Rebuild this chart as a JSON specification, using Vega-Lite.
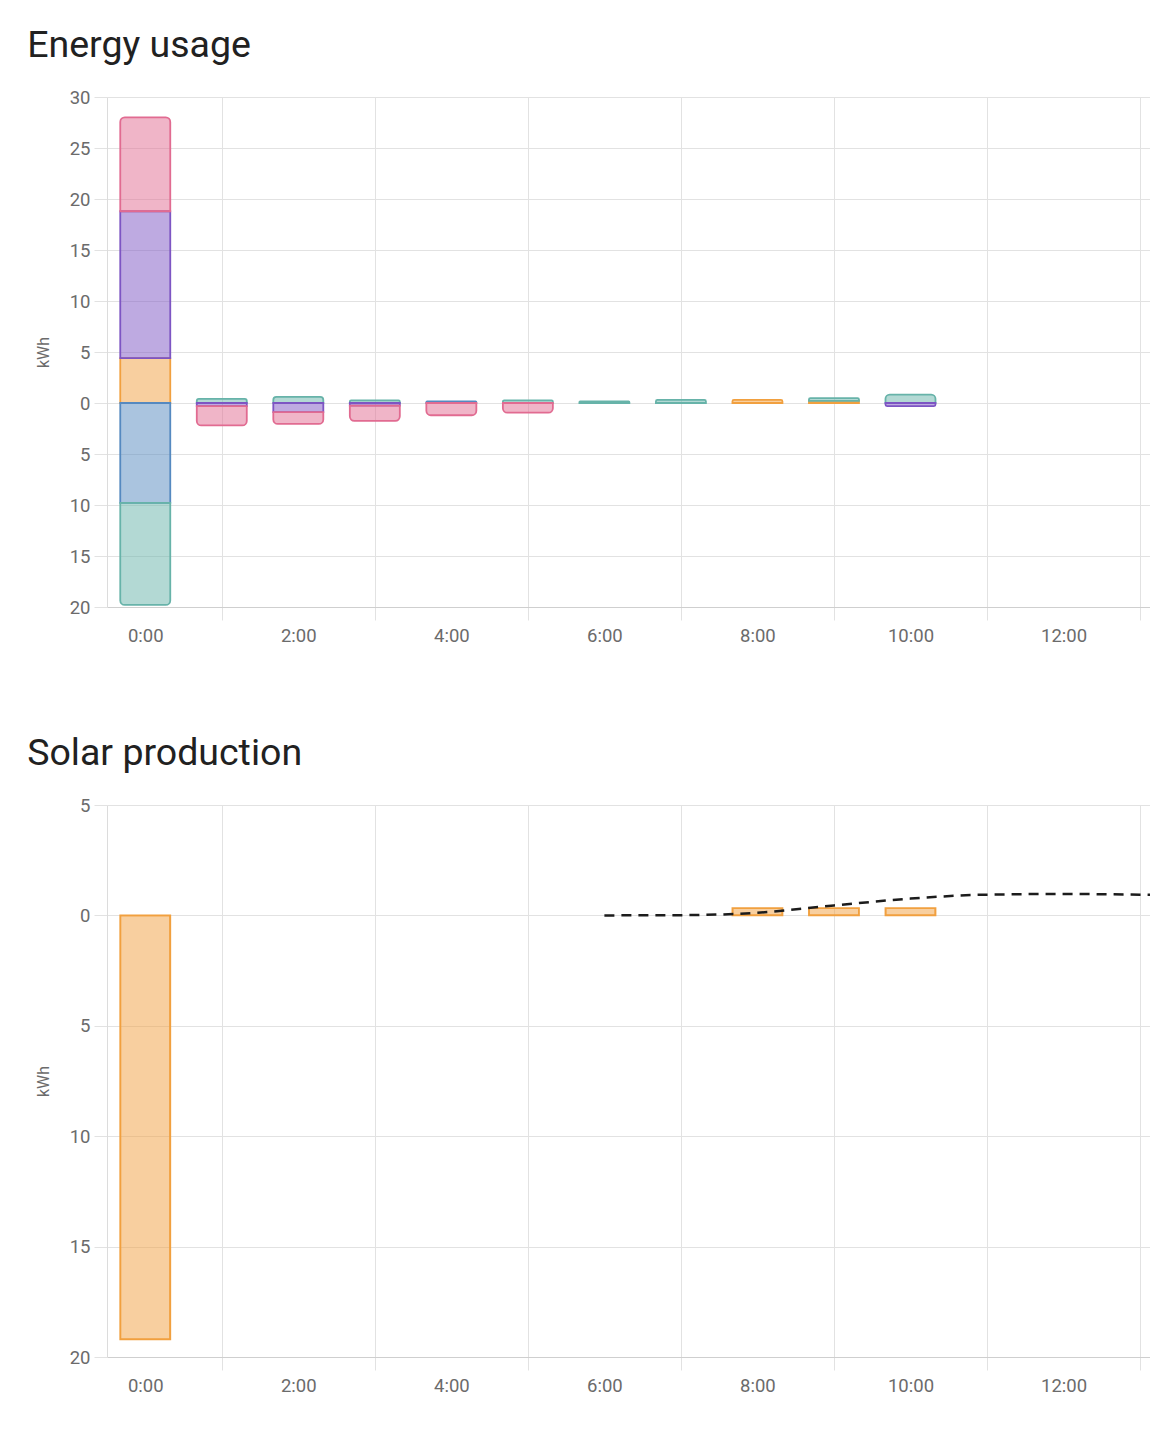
{
  "$schema": "https://vega.github.io/schema/vega-lite/v6.json",
  "background": "white",
  "padding": {"left": 27, "top": 26, "right": 0, "bottom": 0},
  "spacing": 89,
  "config": {
    "font": "Roboto",
    "view": {"stroke": null},
    "axis": {
      "gridColor": "#e2e2e2",
      "domainColor": "#dcdcdc",
      "tickColor": "#e2e2e2",
      "labelColor": "#6b6b6b",
      "labelFontSize": 18.5,
      "labelFont": "Roboto",
      "titleColor": "#6b6b6b",
      "titleFont": "Roboto",
      "titleFontSize": 16,
      "titleFontWeight": "normal"
    },
    "title": {"font": "Roboto", "fontSize": 37.5, "fontWeight": "normal", "color": "#212121", "anchor": "start", "frame": "bounds"}
  },
  "datasets": {
    "sources": [
      {"source": "Solar", "rank": 1},
      {"source": "Grid consumption", "rank": 2},
      {"source": "Battery out", "rank": 3},
      {"source": "Return to grid", "rank": 4},
      {"source": "Battery in", "rank": 5}
    ],
    "usage": [
      {"hour": 0, "source": "Solar", "kwh": 4.4},
      {"hour": 0, "source": "Return to grid", "kwh": 14.4},
      {"hour": 0, "source": "Battery in", "kwh": 9.2},
      {"hour": 0, "source": "Grid consumption", "kwh": -9.8},
      {"hour": 0, "source": "Battery out", "kwh": -10.0},
      {"hour": 1, "source": "Battery out", "kwh": 0.4},
      {"hour": 1, "source": "Return to grid", "kwh": -0.3},
      {"hour": 1, "source": "Battery in", "kwh": -1.9},
      {"hour": 2, "source": "Battery out", "kwh": 0.6},
      {"hour": 2, "source": "Return to grid", "kwh": -0.9},
      {"hour": 2, "source": "Battery in", "kwh": -1.15},
      {"hour": 3, "source": "Battery out", "kwh": 0.25},
      {"hour": 3, "source": "Return to grid", "kwh": -0.25},
      {"hour": 3, "source": "Battery in", "kwh": -1.5},
      {"hour": 4, "source": "Grid consumption", "kwh": 0.15},
      {"hour": 4, "source": "Battery in", "kwh": -1.2},
      {"hour": 5, "source": "Battery out", "kwh": 0.25},
      {"hour": 5, "source": "Battery in", "kwh": -0.95},
      {"hour": 6, "source": "Battery out", "kwh": 0.15},
      {"hour": 7, "source": "Battery out", "kwh": 0.3},
      {"hour": 8, "source": "Solar", "kwh": 0.3},
      {"hour": 9, "source": "Solar", "kwh": 0.2},
      {"hour": 9, "source": "Battery out", "kwh": 0.27},
      {"hour": 10, "source": "Battery out", "kwh": 0.83},
      {"hour": 10, "source": "Return to grid", "kwh": -0.3}
    ],
    "solar": [
      {"hour": 0, "source": "Solar", "kwh": -19.2},
      {"hour": 8, "source": "Solar", "kwh": 0.33},
      {"hour": 9, "source": "Solar", "kwh": 0.33},
      {"hour": 10, "source": "Solar", "kwh": 0.33}
    ],
    "forecast": [
      {"hour": 6, "kwh": 0},
      {"hour": 7, "kwh": 0.01},
      {"hour": 8, "kwh": 0.12},
      {"hour": 9, "kwh": 0.45},
      {"hour": 10, "kwh": 0.76},
      {"hour": 11, "kwh": 0.94},
      {"hour": 12, "kwh": 0.97},
      {"hour": 13, "kwh": 0.94},
      {"hour": 14, "kwh": 0.87}
    ]
  },
  "vconcat": [
    {
      "title": {"text": "Energy usage", "offset": 24, "dx": -8},
      "width": 1043,
      "height": 510,
      "data": {"name": "usage"},
      "transform": [
        {"lookup": "source", "from": {"data": {"name": "sources"}, "key": "source", "fields": ["rank"]}},
        {"stack": "kwh", "groupby": ["hour"], "sort": [{"field": "rank", "order": "ascending"}], "as": ["lo", "hi"]},
        {"joinaggregate": [{"op": "max", "field": "hi", "as": "top"}, {"op": "min", "field": "hi", "as": "bot"}], "groupby": ["hour"]}
      ],
      "mark": {
        "type": "bar",
        "width": 50,
        "fillOpacity": 0.5,
        "strokeWidth": 1.8,
        "cornerRadiusTopLeft": {"expr": "datum.hi > 0 && datum.hi == datum.top ? 4.5 : 0"},
        "cornerRadiusTopRight": {"expr": "datum.hi > 0 && datum.hi == datum.top ? 4.5 : 0"},
        "cornerRadiusBottomLeft": {"expr": "datum.hi < 0 && datum.hi == datum.bot ? 4.5 : 0"},
        "cornerRadiusBottomRight": {"expr": "datum.hi < 0 && datum.hi == datum.bot ? 4.5 : 0"}
      },
      "encoding": {
        "x": {
          "field": "hour", "type": "quantitative",
          "scale": {"domain": [-0.5, 13.13], "nice": false, "zero": false, "padding": 0},
          "axis": {
            "title": null,
            "values": [0, 1, 2, 3, 4, 5, 6, 7, 8, 9, 10, 11, 12, 13],
            "labelExpr": "datum.value % 2 == 0 ? datum.value + ':00' : ''",
            "gridColor": {"condition": {"test": "datum.value % 2 == 1", "value": "#e2e2e2"}, "value": "transparent"},
            "tickColor": {"condition": {"test": "datum.value % 2 == 1", "value": "#e2e2e2"}, "value": "transparent"},
            "tickSize": 13,
            "labelPadding": 6,
            "domainColor": "#cfcfcf",
            "labelFlush": false
          }
        },
        "y": {
          "field": "hi", "type": "quantitative",
          "scale": {"domain": [-20, 30], "nice": false},
          "axis": {
            "title": "kWh",
            "values": [-20, -15, -10, -5, 0, 5, 10, 15, 20, 25, 30],
            "labelExpr": "'' + abs(datum.value)",
            "tickSize": 13,
            "labelPadding": 4,
            "titlePadding": 18
          }
        },
        "y2": {"field": "lo"},
        "fill": {
          "field": "source", "type": "nominal", "legend": null,
          "scale": {"domain": ["Solar", "Grid consumption", "Battery out", "Return to grid", "Battery in"], "range": ["#f1a03f", "#5589c0", "#67b3a9", "#7d55c3", "#e16b91"]}
        },
        "stroke": {
          "field": "source", "type": "nominal", "legend": null,
          "scale": {"domain": ["Solar", "Grid consumption", "Battery out", "Return to grid", "Battery in"], "range": ["#f1a03f", "#5589c0", "#67b3a9", "#7d55c3", "#e16b91"]}
        }
      }
    },
    {
      "title": {"text": "Solar production", "offset": 24, "dx": -8},
      "width": 1043,
      "height": 552,
      "layer": [
        {
          "data": {"name": "solar"},
          "mark": {
            "type": "bar",
            "width": 50,
            "fillOpacity": 0.5,
            "strokeWidth": 1.8,
            "cornerRadiusTopLeft": {"expr": "datum.kwh > 0 ? 4.5 : 0"},
            "cornerRadiusTopRight": {"expr": "datum.kwh > 0 ? 4.5 : 0"},
            "cornerRadiusBottomLeft": {"expr": "datum.kwh < 0 ? 4.5 : 0"},
            "cornerRadiusBottomRight": {"expr": "datum.kwh < 0 ? 4.5 : 0"}
          },
          "encoding": {
            "x": {
              "field": "hour", "type": "quantitative",
              "scale": {"domain": [-0.5, 13.13], "nice": false, "zero": false, "padding": 0},
              "axis": {
                "title": null,
                "values": [0, 1, 2, 3, 4, 5, 6, 7, 8, 9, 10, 11, 12, 13],
                "labelExpr": "datum.value % 2 == 0 ? datum.value + ':00' : ''",
                "gridColor": {"condition": {"test": "datum.value % 2 == 1", "value": "#e2e2e2"}, "value": "transparent"},
                "tickColor": {"condition": {"test": "datum.value % 2 == 1", "value": "#e2e2e2"}, "value": "transparent"},
                "tickSize": 13,
                "labelPadding": 6,
                "domainColor": "#cfcfcf",
                "labelFlush": false
              }
            },
            "y": {
              "field": "kwh", "type": "quantitative",
              "scale": {"domain": [-20, 5], "nice": false},
              "axis": {
                "title": "kWh",
                "values": [-20, -15, -10, -5, 0, 5],
                "labelExpr": "'' + abs(datum.value)",
                "tickSize": 13,
                "labelPadding": 4,
                "titlePadding": 18
              }
            },
            "fill": {"value": "#f1a03f"},
            "stroke": {"value": "#f1a03f"}
          }
        },
        {
          "data": {"name": "forecast"},
          "mark": {"type": "line", "color": "#1c1c1c", "strokeWidth": 2.5, "strokeDash": [10, 7], "interpolate": "monotone", "clip": true},
          "encoding": {
            "x": {"field": "hour", "type": "quantitative"},
            "y": {"field": "kwh", "type": "quantitative"}
          }
        }
      ]
    }
  ]
}
